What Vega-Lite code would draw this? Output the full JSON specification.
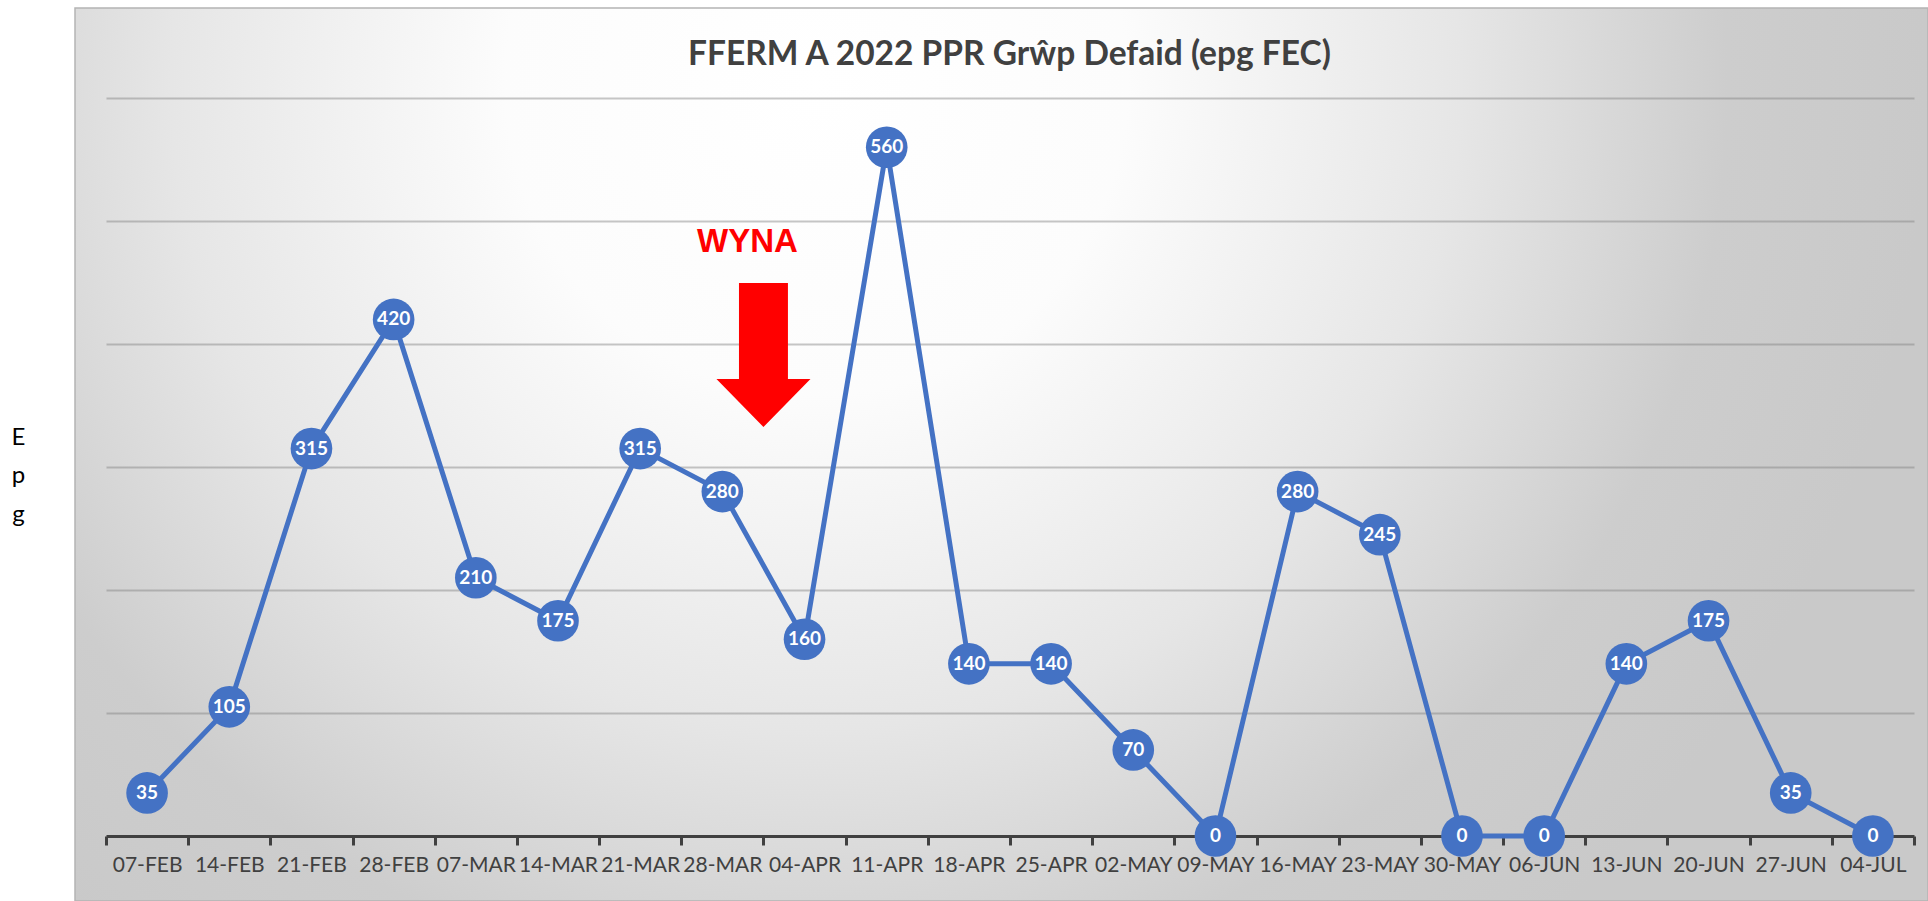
{
  "$schema": "https://vega.github.io/schema/vega-lite/v6.json",
  "autosize": {"type": "none"},
  "padding": {"left": 75, "top": 8, "right": 0, "bottom": 0},
  "width": 1853,
  "height": 893,
  "background": "#ffffff",
  "config": {
    "view": {
      "stroke": "#b4b4b4",
      "strokeWidth": 1.5,
      "fill": {
        "gradient": "radial",
        "x1": 0.4, "y1": 0.3, "r1": 0.0,
        "x2": 0.4, "y2": 0.3, "r2": 0.6,
        "stops": [
          {"offset": 0, "color": "#ffffff"},
          {"offset": 0.28, "color": "#fcfcfc"},
          {"offset": 0.58, "color": "#e6e6e6"},
          {"offset": 0.82, "color": "#cdcdcd"},
          {"offset": 1, "color": "#c9c9c9"}
        ]
      }
    }
  },
  "title": {
    "text": "FFERM A 2022 PPR Grŵp Defaid (epg FEC)",
    "font": "Lato",
    "fontSize": 33.5,
    "fontWeight": "bold",
    "color": "#404040",
    "anchor": "middle",
    "frame": "group",
    "offset": -64,
    "dx": 8
  },
  "datasets": {
    "weekly": [
      {"week": "07-FEB", "epg": 35},
      {"week": "14-FEB", "epg": 105},
      {"week": "21-FEB", "epg": 315},
      {"week": "28-FEB", "epg": 420},
      {"week": "07-MAR", "epg": 210},
      {"week": "14-MAR", "epg": 175},
      {"week": "21-MAR", "epg": 315},
      {"week": "28-MAR", "epg": 280},
      {"week": "04-APR", "epg": 160},
      {"week": "11-APR", "epg": 560},
      {"week": "18-APR", "epg": 140},
      {"week": "25-APR", "epg": 140},
      {"week": "02-MAY", "epg": 70},
      {"week": "09-MAY", "epg": 0},
      {"week": "16-MAY", "epg": 280},
      {"week": "23-MAY", "epg": 245},
      {"week": "30-MAY", "epg": 0},
      {"week": "06-JUN", "epg": 0},
      {"week": "13-JUN", "epg": 140},
      {"week": "20-JUN", "epg": 175},
      {"week": "27-JUN", "epg": 35},
      {"week": "04-JUL", "epg": 0}
    ],
    "arrow": [
      {"week": "28-MAR", "epg": 391}
    ],
    "note": [
      {"week": "28-MAR", "epg": 483, "label": "WYNA"}
    ]
  },
  "encoding": {
    "x": {
      "field": "week",
      "type": "ordinal",
      "sort": null,
      "scale": {
        "domain": ["07-FEB","14-FEB","21-FEB","28-FEB","07-MAR","14-MAR","21-MAR","28-MAR","04-APR","11-APR","18-APR","25-APR","02-MAY","09-MAY","16-MAY","23-MAY","30-MAY","06-JUN","13-JUN","20-JUN","27-JUN","04-JUL"],
        "range": [31, 1839],
        "paddingInner": 0,
        "paddingOuter": 0
      },
      "axis": {
        "title": null,
        "orient": "bottom",
        "offset": -65,
        "labelAngle": 0,
        "labelFont": "Lato",
        "labelFontSize": 21,
        "labelColor": "#404040",
        "labelPadding": 9,
        "labelOverlap": false,
        "domainColor": "#404040",
        "domainWidth": 3,
        "tickColor": "#404040",
        "tickWidth": 3,
        "tickSize": 9,
        "tickBand": "extent",
        "grid": false,
        "zindex": 0
      }
    },
    "y": {
      "field": "epg",
      "type": "quantitative",
      "scale": {"domain": [-52.85, 673.2], "nice": false, "zero": false},
      "axis": {
        "title": ["E", "p", "g"],
        "titleAngle": 0,
        "titleFont": "Lato",
        "titleFontSize": 24,
        "titleFontWeight": "normal",
        "titleColor": "#000000",
        "titleLineHeight": 38.5,
        "titleAlign": "center",
        "titleBaseline": "middle",
        "titleX": -57,
        "titleY": 429,
        "values": [100, 200, 300, 400, 500, 600],
        "labels": false,
        "ticks": false,
        "domain": false,
        "grid": true,
        "gridColor": "#808080",
        "gridOpacity": 0.45,
        "gridWidth": 2,
        "zindex": 0
      }
    }
  },
  "layer": [
    {
      "data": {"name": "weekly"},
      "mark": {"type": "line", "color": "#4472C4", "strokeWidth": 5}
    },
    {
      "data": {"name": "weekly"},
      "mark": {"type": "point", "shape": "circle", "filled": true, "opacity": 1, "color": "#4472C4", "size": 1735}
    },
    {
      "data": {"name": "weekly"},
      "mark": {"type": "text", "color": "#ffffff", "font": "Lato", "fontSize": 19, "fontWeight": "bold", "baseline": "middle", "align": "center"},
      "encoding": {"text": {"field": "epg", "type": "quantitative"}}
    },
    {
      "data": {"name": "arrow"},
      "mark": {
        "type": "point",
        "filled": true,
        "opacity": 1,
        "color": "#ff0000",
        "size": 20736,
        "shape": "M-0.34,-1L0.34,-1L0.34,0.333L0.653,0.333L0,1L-0.653,0.333L-0.34,0.333Z"
      },
      "encoding": {
        "x": {"field": "week", "type": "ordinal", "bandPosition": 1}
      }
    },
    {
      "data": {"name": "note"},
      "mark": {"type": "text", "color": "#ff0000", "font": "Liberation Sans", "fontSize": 33, "fontWeight": "bold", "baseline": "middle", "align": "center", "dx": -16},
      "encoding": {
        "x": {"field": "week", "type": "ordinal", "bandPosition": 1},
        "text": {"field": "label"}
      }
    }
  ]
}
